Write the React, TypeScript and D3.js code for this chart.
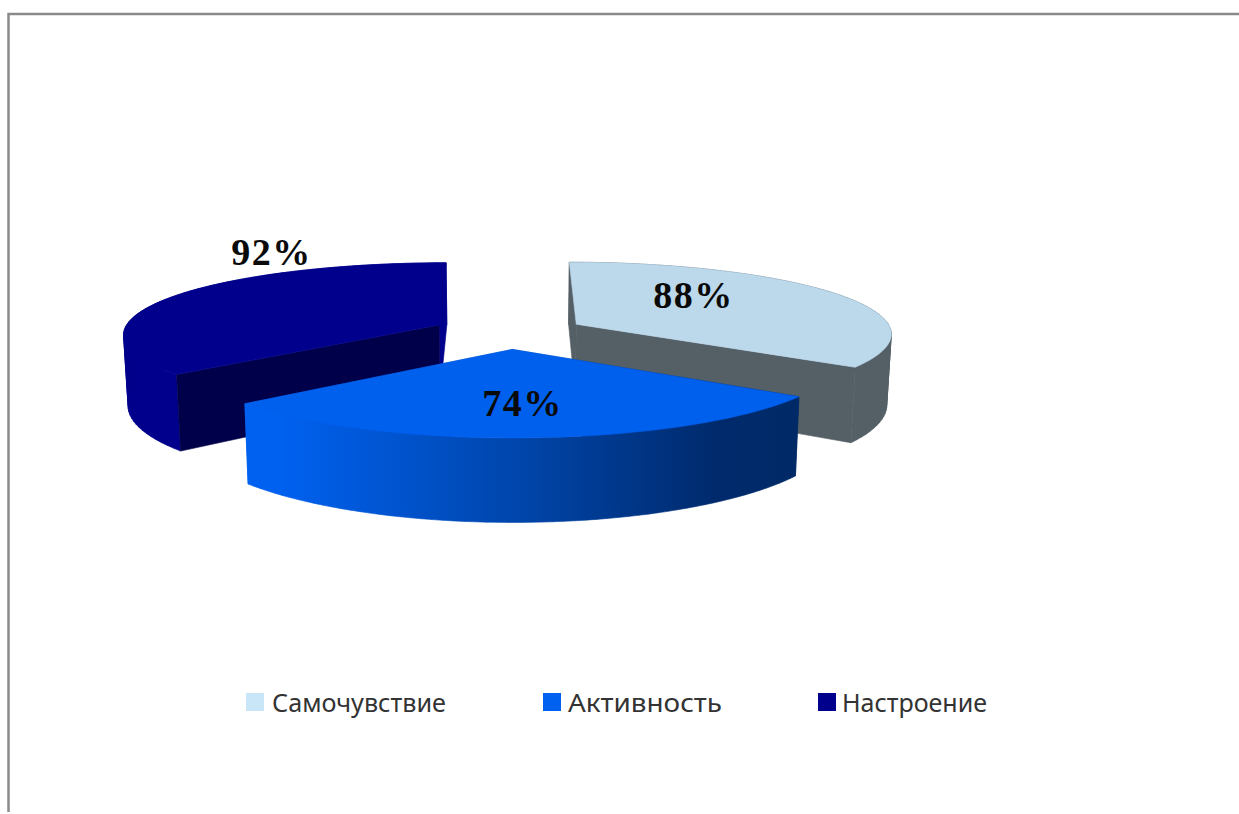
import React from "react";
import * as d3 from "d3";

// Survey results, one slice per category
const categories = ["Самочувствие", "Активность", "Настроение"];
const values = [88, 74, 92];

// Palette per slice
const topColors = ["#bcd9ec", "#0060ee", "#00008c"];
const startWallColors = ["#545f66", "url(#frontWall)", "#00004a"];
const endWallColors = ["#545f66", "url(#frontWall)", "#00008c"];
const outerWallColors = ["#545f66", "url(#frontWall)", "#00008c"];
const legendColors = ["#c9e6f8", "#0060f0", "#00008c"];

// Label and legend placement
const labelPositions: [number, number][] = [[693.5, 295], [522.5, 403], [271.5, 252]];
const legendSwatchX = [246, 543, 818];
const legendTextX = [272, 568, 842];
const legendTextWidth = [174, 154, 145];

const WIDTH = 1239;
const HEIGHT = 814;

// Perspective projection of the exploded disc
const cx = 508.5;
const cy = 332;
const rx = 316;
const ry = 72;
const perspX = 0.115;
const perspY = 0.13;
const explodeX = 0.245;
const explodeY = 0.235;
const depth = 71;
const bottomShrink = 0.988;

type Pt = [number, number];

const project = (X: number, Y: number, lower = false): Pt => {
  const sx = 1 / (1 - perspX * Y);
  const sy = 1 / (1 - perspY * Y);
  const shrink = lower ? bottomShrink : 1;
  return [cx + rx * X * sx * shrink, cy + ry * Y * sy + (lower ? depth * sy : 0)];
};

const pieSlices = d3.pie<number>().sort(null).startAngle(0).endAngle(2 * Math.PI)(values);
const line = d3.line<Pt>().curve(d3.curveLinear);

// Walls are built from quads with one winding, so the union fills without holes
const bandPath = (upper: Pt[], lower: Pt[]) =>
  d3
    .range(upper.length - 1)
    .map((j) => {
      const quad: Pt[] = [upper[j], upper[j + 1], lower[j + 1], lower[j]];
      const ordered = d3.polygonArea(quad) < 0 ? quad.slice().reverse() : quad;
      return line(ordered)! + "Z";
    })
    .join("");

function sliceGeometry(startAngle: number, endAngle: number) {
  const mid = (startAngle + endAngle) / 2;
  const ox = explodeX * Math.sin(mid);
  const oy = -explodeY * Math.cos(mid);
  const rim = d3.range(0, 61).map((i) => startAngle + ((endAngle - startAngle) * i) / 60);
  const point = (a: number, lower = false) => project(ox + Math.sin(a), oy - Math.cos(a), lower);
  const topRim = rim.map((a) => point(a));
  const lowRim = rim.map((a) => point(a, true));
  const apexTop = project(ox, oy);
  const apexLow = project(ox, oy, true);
  return {
    top: line([apexTop, ...topRim])! + "Z",
    outer: bandPath(topRim, lowRim),
    // Navy's start wall faces the viewer, its end wall sits at the back
    startWall: line([apexTop, topRim[0], lowRim[0], apexLow])! + "Z",
    endWall: line([apexTop, topRim[60], lowRim[60], apexLow])! + "Z",
  };
}

// Back slices first, the front slice overlaps them
const drawOrder = [0, 2, 1];

export default function App() {
  return (
    <svg
      width={WIDTH}
      height={HEIGHT}
      viewBox={`0 0 ${WIDTH} ${HEIGHT}`}
      style={{ position: "absolute", left: 0, top: 0, display: "block", background: "#fff" }}
    >
      <defs>
        <linearGradient id="frontWall" gradientUnits="userSpaceOnUse" x1={245} x2={800} y1={0} y2={0}>
          <stop offset="0.06" stopColor="#0061f0" />
          <stop offset="0.5" stopColor="#0045aa" />
          <stop offset="0.85" stopColor="#002a6c" />
          <stop offset="1" stopColor="#002a66" />
        </linearGradient>
      </defs>

      {/* Frame around the chart area */}
      <path d={`M8.5 ${HEIGHT - 2} V14 H${WIDTH}`} fill="none" stroke="#8a8a8a" strokeWidth={2.5} />

      {drawOrder.map((i) => {
        const g = sliceGeometry(pieSlices[i].startAngle, pieSlices[i].endAngle);
        return (
          <g key={categories[i]}>
            <path d={g.endWall} fill={endWallColors[i]} stroke={endWallColors[i]} strokeWidth={0.6} />
            <path d={g.outer} fill={outerWallColors[i]} stroke={outerWallColors[i]} strokeWidth={0.6} />
            <path d={g.startWall} fill={startWallColors[i]} stroke={startWallColors[i]} strokeWidth={0.6} />
            <path d={g.top} fill={topColors[i]} stroke={topColors[i]} strokeWidth={0.6} />
          </g>
        );
      })}

      {values.map((v, i) => (
        <text
          key={categories[i]}
          x={labelPositions[i][0]}
          y={labelPositions[i][1]}
          textAnchor="middle"
          dominantBaseline="central"
          fontFamily="'Liberation Serif', serif"
          fontWeight="bold"
          fontSize={38}
          letterSpacing={1.5}
          fill="#0a0a0a"
        >
          {v}%
        </text>
      ))}

      {categories.map((name, i) => (
        <g key={name}>
          <rect x={legendSwatchX[i]} y={693} width={18} height={18} fill={legendColors[i]} />
          <text
            x={legendTextX[i]}
            y={702}
            dominantBaseline="central"
            fontFamily="'Noto Sans', sans-serif"
            fontSize={25}
            textLength={legendTextWidth[i]}
            lengthAdjust="spacingAndGlyphs"
            fill="#333"
          >
            {name}
          </text>
        </g>
      ))}
    </svg>
  );
}
